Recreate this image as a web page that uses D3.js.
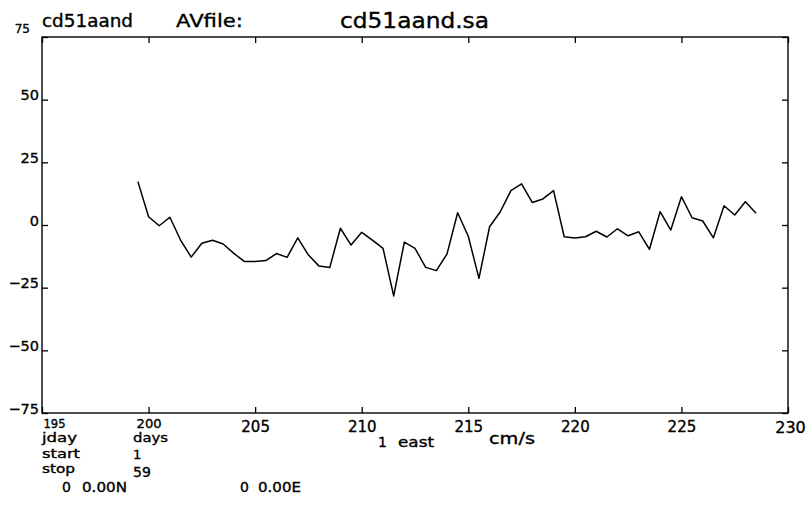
<!DOCTYPE html>
<html>
<head>
<meta charset="utf-8">
<script src="https://cdn.jsdelivr.net/npm/d3@7"></script>
<style>
  html, body { margin: 0; padding: 0; background: #fff; }
  svg text { font-family: "DejaVu Sans", sans-serif; fill: #000; stroke: #000; stroke-width: 0.35px; }
</style>
</head>
<body>
<svg id="chart" width="806" height="505"></svg>
<script>
// ---- data ----
const startDay = 199.5;
const stepDay = 0.5;
const eastValues = [
  17.3, 3.3, -0.3, 3.1, -6.0, -12.8, -7.3, -6.1, -7.6, -11.3,
  -14.6, -14.6, -14.2, -11.4, -12.9, -5.1, -12.0, -16.4, -17.0, -1.3,
  -8.0, -2.9, -6.0, -9.3, -28.3, -6.8, -9.3, -16.9, -18.2, -11.6,
  4.9, -4.5, -21.3, -0.7, 5.3, 13.7, 16.4, 9.0, 10.4, 13.7,
  -4.7, -5.2, -4.7, -2.5, -4.8, -1.5, -4.3, -2.7, -9.7, 5.3,
  -2.0, 11.3, 2.9, 1.6, -5.1, 7.7, 4.0, 9.3, 4.7
];
const xTicks = [195, 200, 205, 210, 215, 220, 225, 230];
const yTicks = [-75, -50, -25, 0, 25, 50, 75];
const titleLeft = "cd51aand";
const titleMid = "AVfile:";
const titleRight = "cd51aand.sa";

const points = eastValues.map((v, i) => ({ day: startDay + i * stepDay, v }));

// ---- layout ----
const svg = d3.select("#chart");
const L = 42, R = 788, T = 37, B = 413;
const x = d3.scaleLinear().domain([195, 230]).range([L, R]);
const y = d3.scaleLinear().domain([-75, 75]).range([B, T]);
const fmt = d => (d < 0 ? "\u2212" + Math.abs(d) : String(d));

// frame
svg.append("rect").attr("x", L).attr("y", T).attr("width", R - L).attr("height", B - T)
  .attr("fill", "none").attr("stroke", "#000").attr("stroke-width", 1.4);

// left axis (inward ticks)
const gl = svg.append("g").attr("transform", `translate(${L},0)`)
  .call(d3.axisLeft(y).tickValues(yTicks).tickSize(-6).tickPadding(2).tickFormat(fmt));
gl.attr("font-size", null).attr("font-family", null);
gl.select(".domain").remove();
gl.selectAll("line").attr("stroke", "#000").attr("stroke-width", 1.3);
gl.selectAll("text").style("font-size", "14.5px").attr("dy", 0).attr("x", -3);
gl.selectAll(".tick").filter(d => d === 75).select("text")
  .style("font-size", "12px").attr("x", -12).attr("dy", -5);

// right axis ticks
const gr = svg.append("g").attr("transform", `translate(${R},0)`)
  .call(d3.axisRight(y).tickValues(yTicks).tickSize(-6).tickFormat(""));
gr.select(".domain").remove();
gr.selectAll("line").attr("stroke", "#000").attr("stroke-width", 1.3);

// bottom axis
const gb = svg.append("g").attr("transform", `translate(0,${B})`)
  .call(d3.axisBottom(x).tickValues(xTicks).tickSize(-6).tickPadding(2).tickFormat(d3.format("d")));
gb.attr("font-size", null).attr("font-family", null);
gb.select(".domain").remove();
gb.selectAll("line").attr("stroke", "#000").attr("stroke-width", 1.3);
gb.selectAll("text").style("font-size", "15px").attr("y", 19).attr("dy", 0);
gb.selectAll(".tick").filter(d => d === 195).select("text")
  .style("font-size", "12.5px").attr("y", 15)
  .attr("text-anchor", "start").attr("x", 1).attr("textLength", 22).attr("lengthAdjust", "spacingAndGlyphs");
gb.selectAll(".tick").filter(d => d === 200).select("text").attr("y", 15).style("font-size", "13px")
  .attr("textLength", 25).attr("lengthAdjust", "spacingAndGlyphs");
gb.selectAll(".tick").filter(d => d === 230).select("text").attr("x", 2).attr("y", 20)
  .style("font-size", "16px");

// top axis ticks
const gt = svg.append("g").attr("transform", `translate(0,${T})`)
  .call(d3.axisTop(x).tickValues(xTicks).tickSize(-6).tickFormat(""));
gt.select(".domain").remove();
gt.selectAll("line").attr("stroke", "#000").attr("stroke-width", 1.3);

// data line
const line = d3.line().x(d => x(d.day)).y(d => y(d.v));
svg.append("path").datum(points).attr("d", line)
  .attr("fill", "none").attr("stroke", "#000").attr("stroke-width", 1.5)
  .attr("stroke-linejoin", "round");

// titles
function txt(str, tx, ty, size, len) {
  const t = svg.append("text").attr("x", tx).attr("y", ty).style("font-size", size + "px").text(str);
  if (len) t.attr("textLength", len).attr("lengthAdjust", "spacingAndGlyphs");
  return t;
}
txt(titleLeft, 42, 27, 17, 91);
txt(titleMid, 176, 27, 17, 67);
txt(titleRight, 340, 28, 21, 149);

// bottom annotations
txt("jday", 42, 442, 13, 35);
txt("days", 133, 442, 13, 35);
txt("1", 378, 447, 14);
txt("east", 398, 447, 14, 36);
txt("cm/s", 489, 444, 15, 46);
txt("start", 42, 458, 12, 38);
txt("1", 133, 459, 13);
txt("stop", 42, 473, 12, 33);
txt("59", 133, 477, 14);
txt("0", 62, 492, 14);
txt("0.00N", 82, 492, 14, 45);
txt("0", 240, 492, 14);
txt("0.00E", 258, 492, 14, 43);
</script>
</body>
</html>
